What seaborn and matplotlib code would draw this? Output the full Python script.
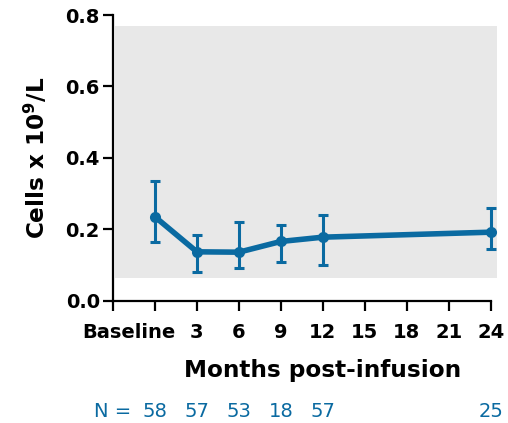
import numpy as np
import pandas as pd
import matplotlib
matplotlib.use("Agg")
import matplotlib.pyplot as plt
import seaborn as sns

# data
months = [0, 3, 6, 9, 12, 24]
cells = [0.235, 0.137, 0.136, 0.166, 0.178, 0.192]
err_low = [0.164, 0.080, 0.092, 0.108, 0.101, 0.144]
err_high = [0.335, 0.183, 0.220, 0.212, 0.240, 0.260]
n_counts = ["58", "57", "53", "18", "57", "25"]
xtick_pos = [-3, 0, 3, 6, 9, 12, 15, 18, 21, 24]
xtick_labels = ["", "", "3", "6", "9", "12", "15", "18", "21", "24"]
band_low, band_high = 0.063, 0.77

blue = "#0a6aa1"

sns.set_style("ticks")
plt.rcParams['font.family'] = ['DejaVu Sans']
plt.rcParams.update({"text.color": "black", "axes.labelcolor": "black",
                     "xtick.color": "black", "ytick.color": "black",
                     "axes.edgecolor": "black"})

df = pd.DataFrame({"Month": months, "Cells": cells})

fig = plt.figure(figsize=(5.08, 4.23), dpi=100)
ax = fig.add_axes([0.2224, 0.289, 0.756, 0.6755])

# normal range band
ax.axhspan(band_low, band_high, xmin=0.006, xmax=1.0, color="#e8e8e8", zorder=0, lw=0)

sns.lineplot(data=df, x="Month", y="Cells", ax=ax, color=blue, lw=4,
             marker="o", markersize=8, markeredgewidth=0, zorder=3)
ax.errorbar(months, cells,
            yerr=[np.array(cells) - np.array(err_low), np.array(err_high) - np.array(cells)],
            fmt="none", ecolor=blue, elinewidth=2.2, capsize=3.5, capthick=2.2, zorder=3)

ax.set_xlim(-3, 24.45)
ax.set_ylim(0, 0.8)
ax.set_yticks([0.0, 0.2, 0.4, 0.6, 0.8])
ax.set_yticklabels(["0.0", "0.2", "0.4", "0.6", "0.8"], fontsize=14, fontweight="bold")
ax.set_xticks(xtick_pos)
ax.set_xticklabels(xtick_labels, fontsize=14, fontweight="bold")

# "Baseline" sits left of its tick so it does not run into "3"
ax.annotate("Baseline", xy=(0, 0), xycoords=("data", "axes fraction"),
            xytext=(-19, -16), textcoords="offset points",
            ha="center", va="top", fontsize=14, fontweight="bold")

for sp in ["top", "right"]:
    ax.spines[sp].set_visible(False)
ax.spines["left"].set_linewidth(1.6)
ax.spines["bottom"].set_linewidth(1.6)
ax.spines["bottom"].set_bounds(-3, 24)
ax.tick_params(axis="both", width=1.6, length=7, color="black")
ax.tick_params(axis="y", pad=2.5)
ax.tick_params(axis="x", pad=9)

ax.set_xlabel("Months post-infusion", fontsize=16.7, fontweight="bold")
ax.xaxis.set_label_coords(0.547, -0.205)
ax.set_ylabel(r"Cells x 10$^{\mathbf{9}}$/L", fontsize=16.7, fontweight="bold")
ax.yaxis.set_label_coords(-0.165, 0.5)

# N row
ax.text(-3.04, -0.309, "N =", color=blue, fontsize=14, ha="center", va="center", clip_on=False)
for m, n in zip(months, n_counts):
    ax.text(m, -0.309, n, color=blue, fontsize=14, ha="center", va="center", clip_on=False)

fig.savefig("out.png", dpi=100)
